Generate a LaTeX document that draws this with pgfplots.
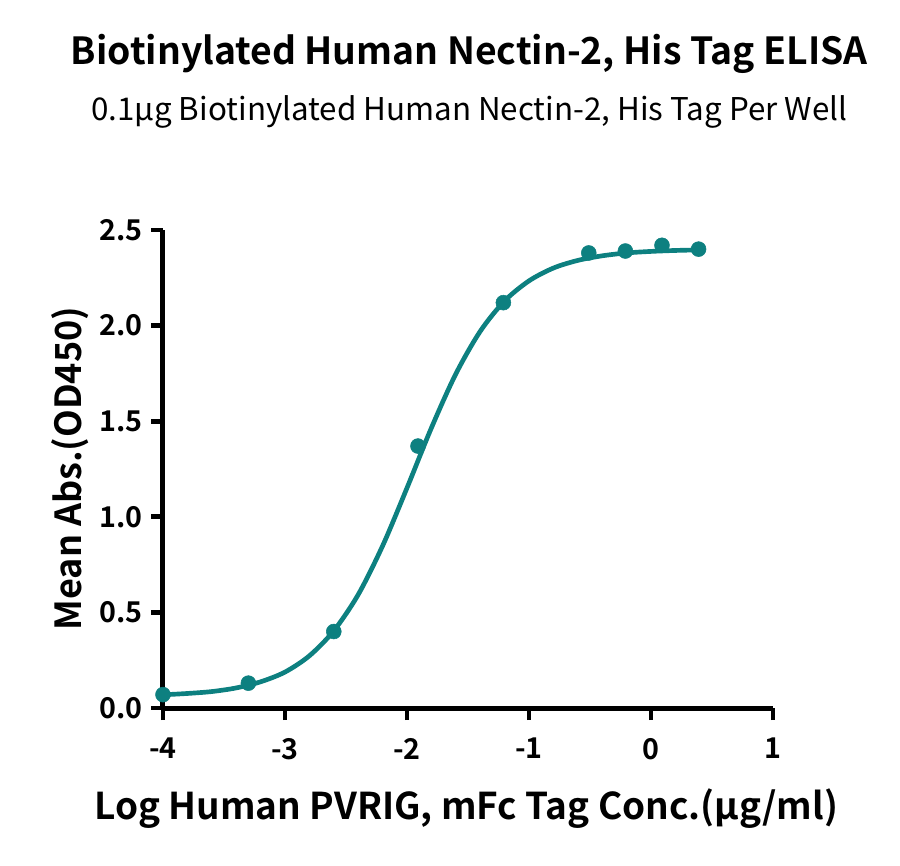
\documentclass[border=0pt]{standalone}
\usepackage{fontspec}
\setmainfont{Noto Sans CJK SC}[BoldFont={Noto Sans CJK SC Bold}]
\usepackage{pgfplots}
\pgfplotsset{compat=1.18}
\definecolor{teal}{RGB}{13,128,128}

\begin{document}
\begin{tikzpicture}
\path[use as bounding box] (0,0) rectangle (675pt,648.75pt);
\begin{axis}[
    at={(122.25pt,117.75pt)}, anchor=south west,
    scale only axis,
    width=457.5pt, height=358.5pt,
    xmin=-4, xmax=1, ymin=0, ymax=2.5,
    axis x line=bottom, axis y line=left,
    axis line style={-, line width=3.75pt},
    xtick={-4,-3,-2,-1,0,1},
    ytick={0,0.5,1,1.5,2,2.5},
    tick align=outside,
    major tick length=9pt,
    tick style={line width=3.5pt, black},
    /pgf/number format/assume math mode=true,
    yticklabel style={/pgf/number format/fixed, /pgf/number format/fixed zerofill, /pgf/number format/precision=1, xshift=-3pt},
    tick label style={font=\fontsize{21.5}{24}\selectfont\bfseries},
    xticklabel style={yshift=-10pt},
    clip=false,
    title={\fontsize{28}{32}\selectfont\bfseries Biotinylated Human Nectin-2, His Tag ELISA},
    title style={at={(axis description cs:0.502,1.330)}, anchor=base},
    xlabel={\fontsize{27.7}{32}\selectfont\bfseries Log Human PVRIG, mFc Tag Conc.(µg/ml)},
    xlabel style={at={(axis description cs:0.497,-0.234)}, anchor=base},
    ylabel={\fontsize{27}{32}\selectfont\bfseries Mean Abs.(OD450)},
    ylabel style={at={(axis description cs:-0.134,0.501)}, anchor=base, rotate=0},
]
% fitted curve
\addplot[teal, line width=3.5pt, smooth, no marks] coordinates {
(-4.0,0.069) (-3.8,0.076) (-3.6,0.086) (-3.4,0.105) (-3.2,0.137)
(-3.0,0.188) (-2.8,0.273) (-2.6,0.404) (-2.4,0.593) (-2.2,0.848)
(-2.0,1.151) (-1.8,1.465) (-1.6,1.747) (-1.4,1.970) (-1.2,2.129)
(-1.0,2.234) (-0.8,2.301) (-0.6,2.341) (-0.4,2.365) (-0.2,2.380)
(0.0,2.388) (0.2,2.393) (0.4,2.396)
};
% measured points
\addplot[only marks, mark=*, mark size=5.6pt, teal] coordinates {
(-4.00,0.07) (-3.30,0.13) (-2.60,0.40) (-1.91,1.37) (-1.21,2.12)
(-0.51,2.38) (-0.21,2.39) (0.09,2.42) (0.39,2.40)
};
\node[anchor=base] at (axis description cs:0.502,1.230) {\fontsize{23.5}{28}\selectfont 0.1µg Biotinylated Human Nectin-2, His Tag Per Well};
\end{axis}
\end{tikzpicture}
\end{document}
